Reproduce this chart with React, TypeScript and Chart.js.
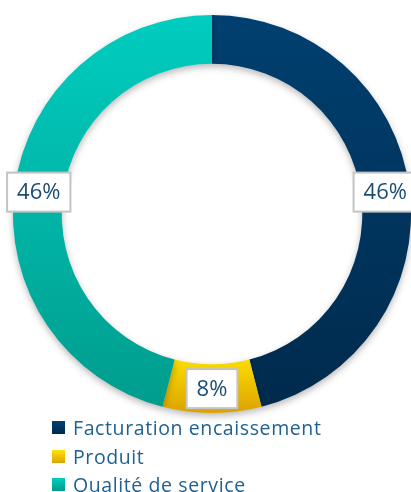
import React, { useEffect, useRef } from "react";
import { Chart, registerables } from "chart.js";

Chart.register(...registerables);

const categories = ["Facturation encaissement", "Produit", "Qualité de service"];
const values = [46, 8, 46];
const valueLabels = ["46%", "8%", "46%"];
const gradTop = ["#004070", "#ffe400", "#00cdc0"];
const gradBottom = ["#002a4c", "#dca200", "#009c8c"];

const FONT = "'Open Sans', 'Noto Sans', sans-serif";

const shadowPlugin = {
  id: "ringShadow",
  beforeDatasetsDraw(chart: any) {
    const ctx = chart.ctx;
    ctx.save();
    ctx.shadowColor = "rgba(0,0,0,0.28)";
    ctx.shadowBlur = 7;
    ctx.shadowOffsetY = 3;
  },
  afterDatasetsDraw(chart: any) {
    chart.ctx.restore();
  },
};

const labelPlugin = {
  id: "boxLabels",
  afterDraw(chart: any) {
    const ctx = chart.ctx;
    const meta = chart.getDatasetMeta(0);
    ctx.save();
    ctx.font = `22px ${FONT}`;
    ctx.textAlign = "center";
    ctx.textBaseline = "middle";
    meta.data.forEach((arc: any, i: number) => {
      const p = arc.tooltipPosition();
      const text = valueLabels[i];
      const w = ctx.measureText(text).width + 20;
      const h = 39;
      ctx.fillStyle = "#ffffff";
      ctx.fillRect(p.x - w / 2, p.y - h / 2, w, h);
      ctx.strokeStyle = "#c4c4c4";
      ctx.lineWidth = 2;
      ctx.strokeRect(p.x - w / 2, p.y - h / 2, w, h);
      ctx.fillStyle = "#1b4c74";
      ctx.fillText(text, p.x, p.y + 1);
    });
    ctx.restore();
  },
};

export default function App() {
  const ref = useRef<HTMLCanvasElement>(null);

  useEffect(() => {
    if (!ref.current) return;
    const chart = new Chart(ref.current, {
      type: "doughnut",
      data: {
        labels: categories,
        datasets: [
          {
            data: values,
            borderWidth: 0,
            backgroundColor: (c: any) => {
              const ch = c.chart;
              const area = ch.chartArea;
              const i = c.dataIndex;
              if (!area) return gradTop[i];
              let y0 = area.top;
              let y1 = area.bottom;
              if (i === 1) {
                y0 = area.bottom - 60;
              }
              const g = ch.ctx.createLinearGradient(0, y0, 0, y1);
              g.addColorStop(0, gradTop[i]);
              g.addColorStop(1, gradBottom[i]);
              return g;
            },
          },
        ],
      },
      options: {
        responsive: false,
        animation: false,
        cutout: "75.5%",
        layout: { padding: { left: 13, right: 0, top: 15, bottom: 79 } },
        plugins: {
          legend: { display: false },
          tooltip: { enabled: false },
        },
      },
      plugins: [shadowPlugin, labelPlugin],
    });
    return () => chart.destroy();
  }, []);

  return (
    <div
      style={{
        position: "fixed",
        left: 0,
        top: 0,
        width: 411,
        height: 492,
        overflow: "hidden",
        background: "#ffffff",
      }}
    >
      <canvas ref={ref} width={411} height={492} style={{ display: "block" }} />
      <div style={{ position: "absolute", left: 52, top: 413, fontFamily: FONT }}>
        {categories.map((c, i) => (
          <div
            key={c}
            style={{
              display: "flex",
              alignItems: "center",
              height: 28.7,
              color: "#1f6190",
              fontSize: 19.5,
              letterSpacing: 0.6,
              whiteSpace: "nowrap",
            }}
          >
            <span
              style={{
                display: "inline-block",
                width: 13,
                height: 13,
                marginRight: 8,
                background: `linear-gradient(${gradTop[i]}, ${gradBottom[i]})`,
              }}
            />
            <span>{c}</span>
          </div>
        ))}
      </div>
    </div>
  );
}
